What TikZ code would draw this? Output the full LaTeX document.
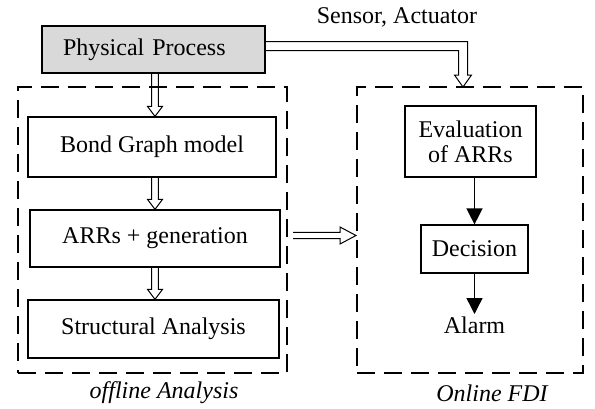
\documentclass[tikz,border=0pt]{standalone}
\usepackage{fontspec}
\setmainfont{Liberation Serif}
\usetikzlibrary{arrows.meta,calc}
\definecolor{boxgray}{HTML}{D9D9D9}
\begin{document}
\begin{tikzpicture}[x=1pt,y=-1pt,
  font=\fontsize{24}{28}\selectfont,
  stepbox/.style={draw, line width=1.2pt, rectangle, inner sep=0pt},
  group/.style={draw, line width=2pt, dash pattern=on 18pt off 9pt, rectangle, inner sep=0pt},
  hollow/.style args={#1/#2/#3}{line width=1pt, line join=miter, to path={
    ($(\tikztostart)!#1!90:(\tikztotarget)$) --
    ($(\tikztotarget)!#3!(\tikztostart)!#1!90:(\tikztotarget)$) --
    ($(\tikztotarget)!#3!(\tikztostart)!#2!90:(\tikztotarget)$) --
    (\tikztotarget) --
    ($(\tikztotarget)!#3!(\tikztostart)!#2!-90:(\tikztotarget)$) --
    ($(\tikztotarget)!#3!(\tikztostart)!#1!-90:(\tikztotarget)$) --
    ($(\tikztostart)!#1!-90:(\tikztotarget)$)}},
  blk/.style={line width=1.4pt, -{Triangle[length=16pt, width=16pt]}}]
\useasboundingbox (0,0) rectangle (595,408);
% groups
\node[group, minimum width=269pt, minimum height=286pt] (off) at (152.5,230) {};
\node[group, minimum width=226pt, minimum height=286pt] (fdi) at (470,230) {};
% boxes
\node[stepbox, fill=boxgray, minimum width=223pt, minimum height=47pt, text width=181pt, align=left, inner xsep=21pt] (pp) at (153.5,49.5) {Physical Process};
\node[stepbox, minimum width=248pt, minimum height=60pt] (bg) at (152,147) {Bond Graph model};
\node[stepbox, minimum width=250pt, minimum height=57pt] (arr) at (155,238.5) {ARRs + generation};
\node[stepbox, minimum width=251pt, minimum height=58pt] (sa) at (153.5,329) {Structural Analysis};
\node[stepbox, minimum width=131pt, minimum height=71pt, align=center] (ev) at (470.5,141.5) {Evaluation\\[-3pt]of ARRs};
\node[stepbox, minimum width=107pt, minimum height=48pt] (dec) at (474.5,249) {Decision};
\node[anchor=north, inner sep=3pt] (alarm) at (474.5,314) {Alarm};
% labels
\node (sens) at (397,17) {Sensor, Actuator};
\node (offl) at (164,393) {\itshape offline Analysis};
\node (onl) at (492,393) {\itshape Online FDI};
% coordinates
\coordinate (h1) at (293,235.5);
\coordinate (st) at (463,87);
% hollow arrows
\draw[hollow=3.4pt/7.5pt/10pt] (pp.south -| arr.north) to (bg.north -| arr.north);
\draw[hollow=3.4pt/7.5pt/10pt] (bg.south -| arr.north) to (arr.north);
\draw[hollow=3.4pt/7.5pt/10pt] (arr.south) to (sa.north -| arr.south);
\draw[hollow=3.2pt/8.5pt/16pt] (h1) to (h1 -| fdi.west);
\draw[line width=1pt, line join=miter]
  ($(pp.east)+(0,-8)$) -| ($(st)+(4.5,-12)$) -- ($(st)+(8.5,-12)$) -- (st)
  -- ($(st)+(-8.5,-12)$) -- ($(st)+(-4.5,-12)$) |- ($(pp.east)+(0,1)$);
% black arrows
\draw[blk] (ev.south -| dec.north) -- (dec.north);
\draw[blk] (dec.south) -- (alarm.north);
\end{tikzpicture}
\end{document}
